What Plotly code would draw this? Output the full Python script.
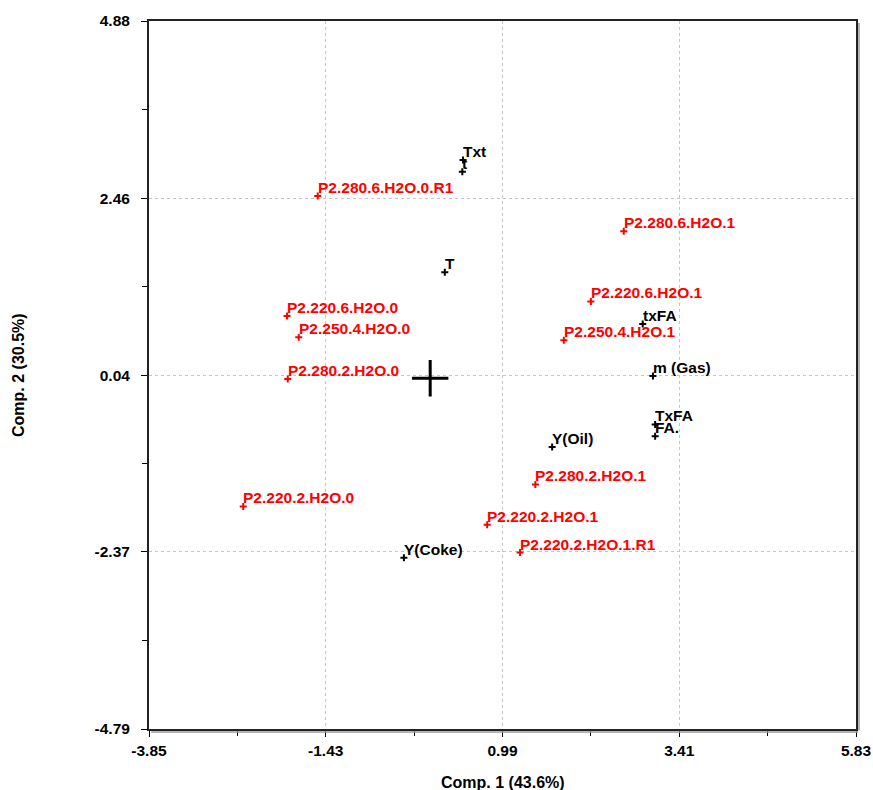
import plotly.graph_objects as go

# PCA biplot: scores (samples, red) and loadings (variables, black)
sample_names = [
    "P2.280.6.H2O.0.R1", "P2.280.6.H2O.1", "P2.220.6.H2O.1", "P2.250.4.H2O.1",
    "P2.220.6.H2O.0", "P2.250.4.H2O.0", "P2.280.2.H2O.0", "P2.220.2.H2O.0",
    "P2.280.2.H2O.1", "P2.220.2.H2O.1", "P2.220.2.H2O.1.R1",
]
sample_x = [-1.54, 2.65, 2.20, 1.83, -1.96, -1.80, -1.95, -2.56, 1.44, 0.78, 1.23]
sample_y = [2.49, 2.01, 1.05, 0.52, 0.85, 0.56, -0.01, -1.75, -1.45, -2.00, -2.38]

variable_names = ["Txt", "t", "T", "txFA", "m (Gas)", "TxFA", "FA.", "Y(Oil)", "Y(Coke)"]
variable_x = [0.45, 0.44, 0.20, 2.91, 3.05, 3.08, 3.08, 1.67, -0.36]
variable_y = [2.98, 2.82, 1.45, 0.74, 0.03, -0.63, -0.79, -0.94, -2.45]

x_ticks = [-3.85, -1.43, 0.99, 3.41, 5.83]
y_ticks = [-4.79, -2.37, 0.04, 2.46, 4.88]
x_title = "Comp. 1 (43.6%)"
y_title = "Comp. 2 (30.5%)"

RED = "#ff0000"
FONT = "Liberation Sans, Arial, sans-serif"
LABEL_SIZE = 15.5


def midpoints(v):
    return [(a + b) / 2 for a, b in zip(v[:-1], v[1:])]


fig = go.Figure()

fig.add_trace(go.Scatter(
    x=sample_x, y=sample_y, mode="markers", hoverinfo="skip",
    marker=dict(symbol="cross-thin", size=5, line=dict(width=2, color=RED)),
))
fig.add_trace(go.Scatter(
    x=variable_x, y=variable_y, mode="markers", hoverinfo="skip",
    marker=dict(symbol="cross-thin", size=5, line=dict(width=2, color="black")),
))
# origin marker
fig.add_trace(go.Scatter(
    x=[0], y=[0], mode="markers", hoverinfo="skip",
    marker=dict(symbol="cross-thin", size=26, line=dict(width=3, color="black")),
))

annotations = []
for names, xs, ys, col in ((sample_names, sample_x, sample_y, RED),
                           (variable_names, variable_x, variable_y, "black")):
    for n, x, y in zip(names, xs, ys):
        annotations.append(dict(
            x=x, y=y, xref="x", yref="y", text=n, showarrow=False,
            xanchor="left", yanchor="bottom", xshift=-1, yshift=-1,
            borderpad=0,
            font=dict(family=FONT, size=LABEL_SIZE, color=col, weight="bold"),
        ))

annotations.append(dict(
    x=0.5, y=0, xref="paper", yref="paper", text=x_title, showarrow=False,
    xanchor="center", yanchor="middle", yshift=-53,
    font=dict(family=FONT, size=16, color="black", weight="bold"),
))
annotations.append(dict(
    x=0, y=0.5, xref="paper", yref="paper", text=y_title, showarrow=False,
    xanchor="center", yanchor="middle", xshift=-131, textangle=-90,
    font=dict(family=FONT, size=16, color="black", weight="bold"),
))

axis_common = dict(
    showgrid=True, gridcolor="#c4c4c4", griddash="dot", gridwidth=1,
    showline=True, linecolor="#222222", linewidth=2, mirror=True,
    ticks="outside", ticklen=6, tickwidth=1, tickcolor="black",
    zeroline=False, automargin=False, ticklabeloverflow="allow",
    tickfont=dict(family=FONT, size=15.5, color="black", weight="bold"),
)

fig.update_layout(
    width=873, height=790,
    margin=dict(l=149, r=17, t=21, b=61, autoexpand=False),
    paper_bgcolor="white", plot_bgcolor="white",
    showlegend=False,
    annotations=annotations,
    xaxis=dict(
        range=[x_ticks[0], x_ticks[-1]],
        tickmode="array", tickvals=x_ticks, ticktext=[f"{v:.2f}" for v in x_ticks],
        minor=dict(tickmode="array", tickvals=midpoints(x_ticks), ticks="outside",
                   ticklen=5, tickcolor="black", showgrid=False),
        ticklabelstandoff=0,
        **axis_common,
    ),
    yaxis=dict(
        range=[y_ticks[0], y_ticks[-1]],
        tickmode="array", tickvals=y_ticks, ticktext=[f"{v:.2f}" for v in y_ticks],
        minor=dict(tickmode="array", tickvals=midpoints(y_ticks), ticks="outside",
                   ticklen=5, tickcolor="black", showgrid=False),
        ticklabelstandoff=8,
        **axis_common,
    ),
    shapes=[
        # shadow lines along the right and bottom frame
        dict(type="line", xref="paper", yref="paper", xsizemode="pixel", xanchor=1,
             x0=3, x1=3, y0=-0.002, y1=0.997, line=dict(color="#9a9a9a", width=1.5)),
        dict(type="line", xref="paper", yref="paper", ysizemode="pixel", yanchor=0,
             y0=-3, y1=-3, x0=0.003, x1=1.003, line=dict(color="#9a9a9a", width=1.5)),
    ],
)

fig.write_html("out.html")
